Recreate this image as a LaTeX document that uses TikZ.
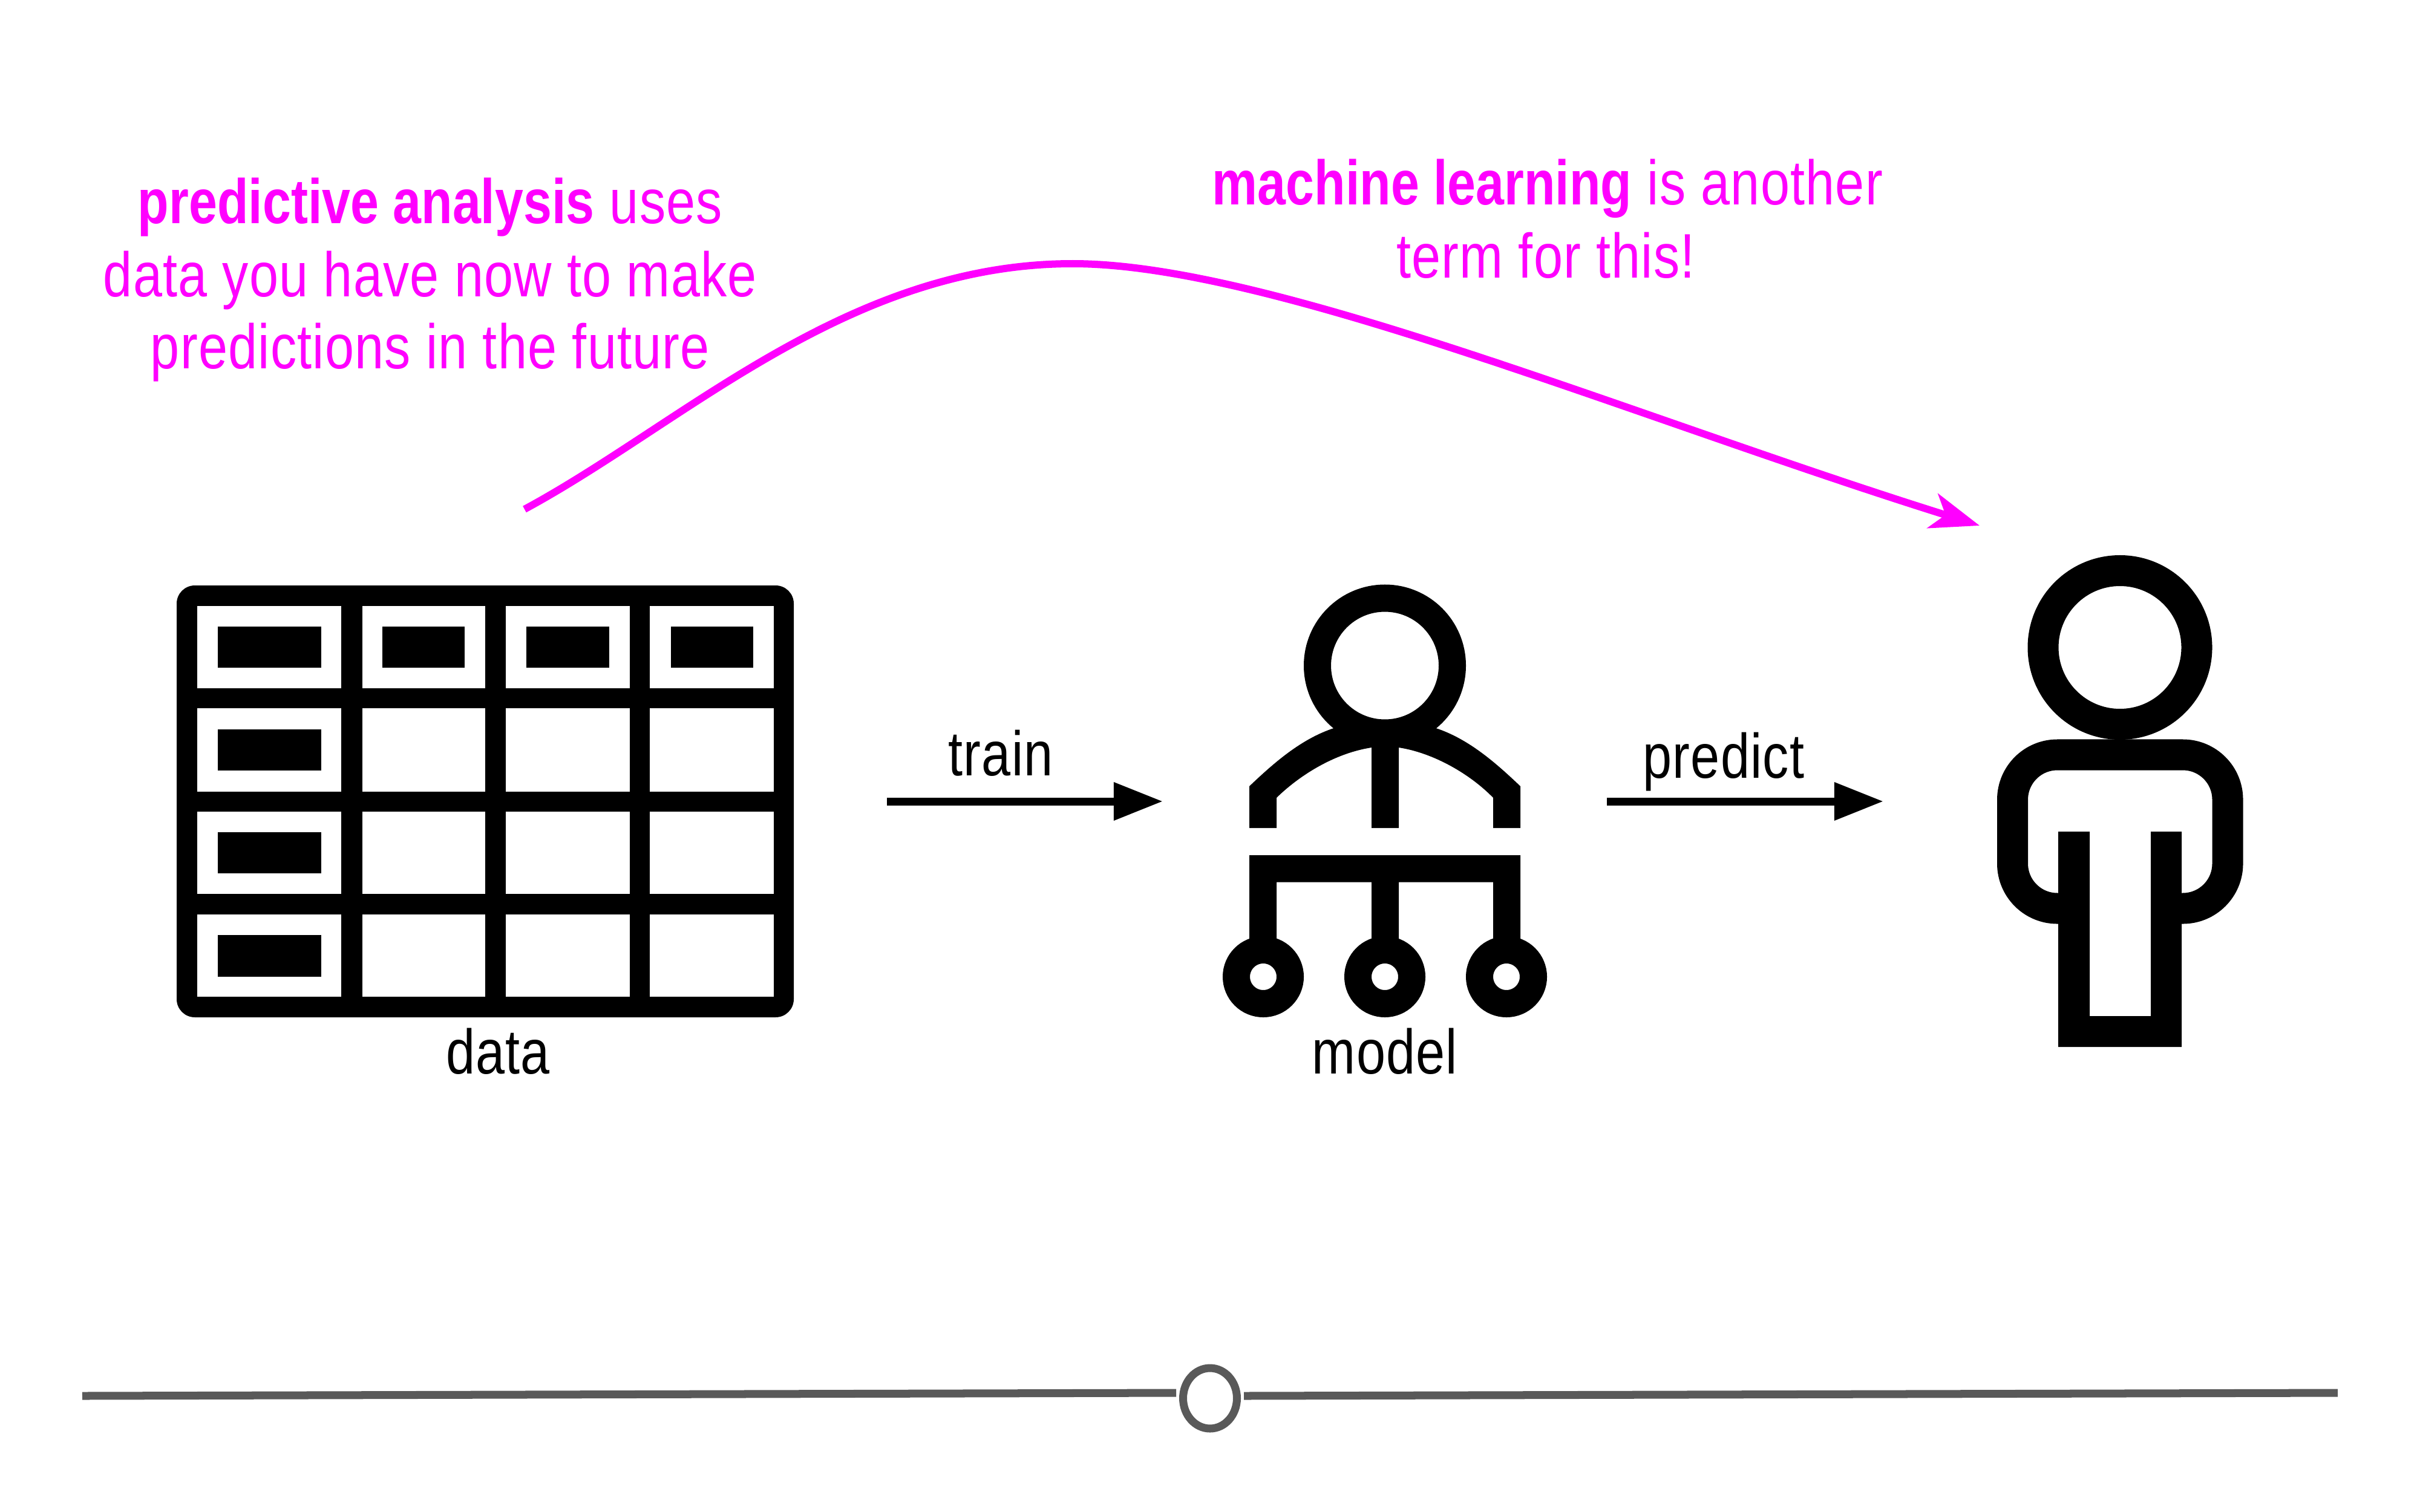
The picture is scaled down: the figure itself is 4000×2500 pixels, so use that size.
\documentclass[tikz,border=0pt]{standalone}
\usepackage{fontspec}
\setmainfont[FakeStretch=0.83,LetterSpace=1.2,BoldFeatures={FakeStretch=0.81,LetterSpace=0}]{Liberation Sans}
\usetikzlibrary{arrows.meta}
\definecolor{hot}{HTML}{FF00FF}
\definecolor{knobgrey}{HTML}{595959}
\newdimen\pxd \pxd=0.28453pt
\tikzset{
  note/.style={text=hot,anchor=base,inner sep=0pt,font=\fontsize{29.6}{34.14}\selectfont},
  label/.style={text=black,anchor=base,inner sep=0pt,font=\fontsize{29.6}{34.14}\selectfont},
  flowline/.style={line width=13\pxd,draw=black,-{Triangle[length=23.05pt,width=17.07pt,fill=black]}},
  curveline/.style={line width=12\pxd,draw=hot,-{Stealth[length=23.05pt,width=16.9pt,inset=6.3pt,fill=hot]}},
  slider/.style={line width=13\pxd,draw=knobgrey},
  ink/.style={fill=black,draw=none},
}
\begin{document}
\begin{tikzpicture}[x=0.01cm,y=-0.01cm]
\useasboundingbox (0,0) rectangle (4000,2500);
% table
\fill[black,rounded corners=0.3cm] (292,968) rectangle (1312,1682);
\foreach \xa/\xb in {326/564,599/802,836/1041,1074/1279}
  \foreach \ya/\yb in {1002/1138,1171/1309,1342/1478,1512/1648}
    \fill[white] (\xa,\ya) rectangle (\xb,\yb);
\foreach \ya/\yb in {1036/1104,1206/1274,1376/1444,1546/1615}
  \fill[black] (360,\ya) rectangle (531,\yb);
\foreach \xa/\xb in {632/768,870/1007,1109/1245}
  \fill[black] (\xa,1036) rectangle (\xb,1104);
\node[label] (datalabel) at (823,1775) {data};
% model icon
\fill[ink] (2065,1369) -- (2065,1300) .. controls (2105,1262) and (2150,1222) .. (2204.5,1204)
  -- (2373.5,1204) .. controls (2428,1222) and (2473,1262) .. (2513,1300)
  -- (2513,1369) -- (2468,1369) -- (2468,1319)
  .. controls (2430,1280) and (2370,1245) .. (2312,1236)
  -- (2312,1369) -- (2267,1369) -- (2267,1236)
  .. controls (2208,1245) and (2150,1280) .. (2110,1319)
  -- (2110,1369) -- cycle;
\draw[line width=45\pxd,draw=black,fill=white] (2289,1100.5) circle[radius=111.5];
\fill[ink] (2065,1414) -- (2513,1414) -- (2513,1600) -- (2468,1600) -- (2468,1458.5) -- (2312,1458.5)
  -- (2312,1600) -- (2267,1600) -- (2267,1458.5) -- (2110,1458.5) -- (2110,1600) -- (2065,1600) -- cycle;
\foreach \cx in {2088,2289,2490}
  \draw[line width=45\pxd,draw=black,fill=white] (\cx,1615) circle[radius=44.5];
\node[label] (modellabel) at (2289,1775) {model};
% person icon
\draw[line width=51\pxd,draw=black,fill=white] (3504,1070.5) circle[radius=127];
\draw[line width=51\pxd,draw=black,rounded corners=0.74cm] (3404,1502) -- (3326.5,1502) -- (3326.5,1248) -- (3682,1248) -- (3682,1502) -- (3604,1502);
\fill[ink] (3402,1375) -- (3454,1375) -- (3454,1680) -- (3555,1680) -- (3555,1375) -- (3606,1375) -- (3606,1731) -- (3402,1731) -- cycle;
% arrows
\coordinate (trainstart) at (1466,1325);
\coordinate (trainend) at (1922,1325);
\coordinate (predictstart) at (2656,1325);
\coordinate (predictend) at (3113,1325);
\draw[flowline] (trainstart) -- (trainend);
\draw[flowline] (predictstart) -- (predictend);
\node[label] (trainlabel) at (1654,1282) {train};
\node[label] (predictlabel) at (2849,1286) {predict};
% magenta curve
\coordinate (curvestart) at (867,842);
\coordinate (curvepeak) at (1773,436);
\coordinate (curveend) at (3272,869);
\draw[curveline] (curvestart) .. controls (1130,700) and (1400,436) .. (curvepeak)
  .. controls (2100,436) and (2700,690) .. (curveend);
% notes
\node[note] (pa1) at (711,369) {\textbf{predictive analysis} uses};
\node[note] (pa2) at (711,490) {data you have now to make};
\node[note] (pa3) at (711,609) {predictions in the future};
\node[note] (ml1) at (2558,338) {\textbf{machine learning} is another};
\node[note] (ml2) at (2555,459) {term for this!};
% slider
\coordinate (sliderleft) at (136,2308);
\coordinate (sliderleftend) at (1944,2303);
\coordinate (sliderrightstart) at (2056,2308);
\coordinate (sliderright) at (3864,2303);
\draw[slider] (sliderleft) -- (sliderleftend);
\draw[slider] (sliderrightstart) -- (sliderright);
\draw[slider] (2000,2312) ellipse[x radius=44.5,y radius=50];
\end{tikzpicture}
\end{document}
